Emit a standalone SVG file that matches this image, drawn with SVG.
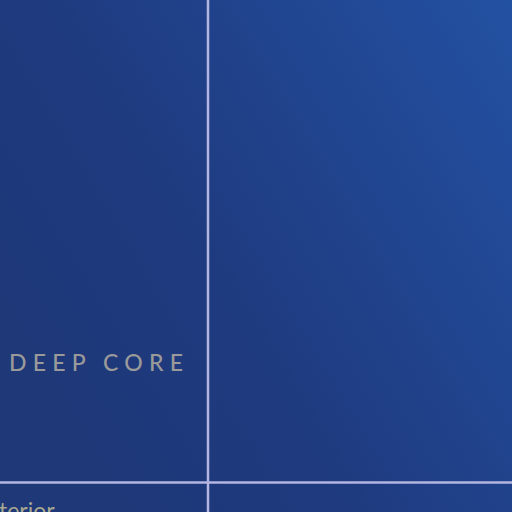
<svg xmlns="http://www.w3.org/2000/svg" width="512" height="512" viewBox="0 0 512 512">
  <defs>
    <linearGradient id="bg" x1="0" y1="0.6" x2="1" y2="0">
      <stop offset="0" stop-color="#1e3878"/>
      <stop offset="0.35" stop-color="#1f3b80"/>
      <stop offset="1" stop-color="#2351a2"/>
    </linearGradient>
  </defs>
  <style>
    .ln { stroke: #b4b6e2; stroke-width: 2.5; fill: none; }
    .lbl { font-family: Lato, "Noto Sans", sans-serif; fill: #9a9a9a; }
    .sub { font-family: Lato, "Noto Sans", sans-serif; fill: #a9a892; }
  </style>
  <rect x="0" y="0" width="512" height="512" fill="url(#bg)"/>
  <g id="connectors">
    <line class="ln" x1="208" y1="0" x2="208" y2="512"/>
    <line class="ln" x1="0" y1="482.5" x2="512" y2="482.5"/>
  </g>
  <g id="deep-core">
    <text class="lbl" x="9" y="371" font-size="23" letter-spacing="6.2" font-weight="500">DEEP CORE</text>
  </g>
  <g id="exterior">
    <text class="sub" x="-1" y="519" font-size="23">terior</text>
  </g>
</svg>
